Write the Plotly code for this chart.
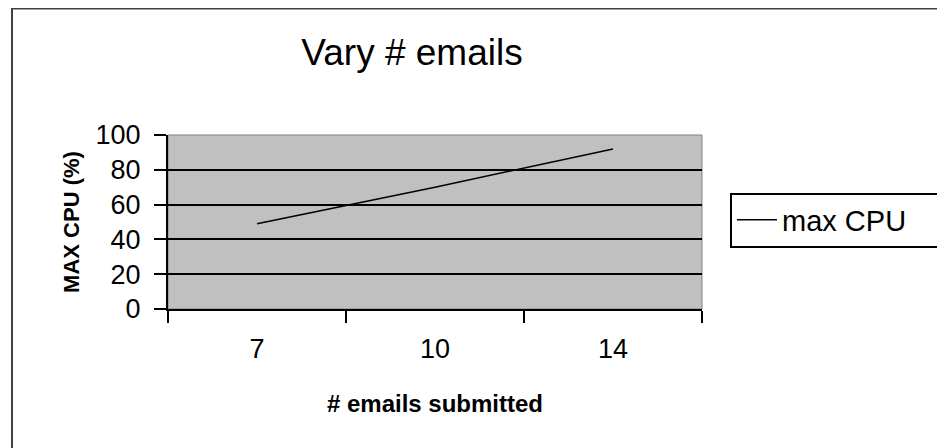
import plotly.graph_objects as go

categories = ["7", "10", "14"]
max_cpu = [49, 70, 92]
y_ticks = [0, 20, 40, 60, 80, 100]

W, H = 945, 448
# The page body adds an 8px offset; figure coords = screenshot coords - 8
L, T = 160, 127
R = W - 694
B = H - 301
pw, ph = W - L - R, H - T - B

def px_x(p):
    return (p - L) / pw

def px_y(p):
    return (H - B - p) / ph

fig = go.Figure()
fig.add_trace(go.Scatter(
    x=categories, y=max_cpu, mode="lines", name="max CPU",
    line=dict(color="black", width=1.5),
))

font_family = "Liberation Sans, Arial, sans-serif"
fig.update_layout(
    width=W, height=H,
    margin=dict(l=L, r=R, t=T, b=B, autoexpand=False),
    paper_bgcolor="white",
    plot_bgcolor="#C0C0C0",
    font=dict(family=font_family, color="black"),
    title=dict(text="Vary # emails", x=404 / W, xanchor="center",
               y=1 - 44 / H, yanchor="middle", font=dict(size=37)),
    showlegend=True,
    legend=dict(x=px_x(722), xanchor="left", y=px_y(212), yanchor="middle",
                orientation="h",
                bgcolor="white", bordercolor="black", borderwidth=2,
                font=dict(size=29), itemwidth=40,
                entrywidth=154, entrywidthmode="pixels"),
    xaxis=dict(
        type="category", range=[-0.5, 2.5], tickson="boundaries",
        ticks="outside", ticklen=12, tickwidth=2, tickcolor="black",
        showline=True, linecolor="black", linewidth=2, mirror=False,
        showgrid=False, zeroline=False,
        tickfont=dict(size=27), ticklabelstandoff=15,
        title=dict(text="<b># emails submitted</b>", font=dict(size=24), standoff=32),
        fixedrange=True,
    ),
    yaxis=dict(
        range=[0, 100], tickvals=y_ticks, ticks="outside", ticklen=12,
        tickwidth=2, tickcolor="black",
        showline=True, linecolor="black", linewidth=2,
        showgrid=True, gridcolor="black", gridwidth=2, zeroline=False,
        tickfont=dict(size=27), ticklabelstandoff=8,
        title=dict(text="<b>MAX CPU (%)</b>", font=dict(size=22), standoff=10),
        fixedrange=True,
    ),
    shapes=[
        dict(type="line", xref="paper", yref="paper",
             x0=px_x(4), x1=px_x(4), y0=px_y(0), y1=px_y(H + 20),
             line=dict(color="#404040", width=2)),
        dict(type="line", xref="paper", yref="paper",
             x0=px_x(3), x1=px_x(W + 20), y0=px_y(0.5), y1=px_y(0.5),
             line=dict(color="#404040", width=2)),
        dict(type="rect", xref="paper", yref="paper",
             x0=0, x1=1, y0=0, y1=1,
             line=dict(color="#808080", width=1), layer="below"),
    ],
)

fig.write_html("out.html")
